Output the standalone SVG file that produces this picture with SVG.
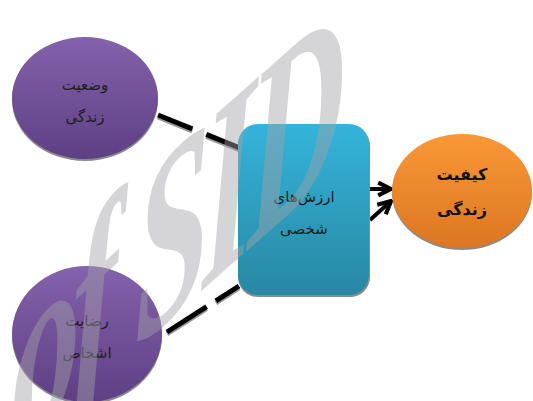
<svg xmlns="http://www.w3.org/2000/svg" width="533" height="401" viewBox="0 0 533 401">
<defs>
<linearGradient id="gP" x1="0" y1="0" x2="0" y2="1"><stop offset="0" stop-color="#8462ac"/><stop offset="1" stop-color="#5e3f84"/></linearGradient>
<linearGradient id="gB" x1="0" y1="0" x2="0" y2="1"><stop offset="0" stop-color="#34b4da"/><stop offset="1" stop-color="#2887a4"/></linearGradient>
<linearGradient id="gO" x1="0" y1="0" x2="0" y2="1"><stop offset="0" stop-color="#fa9836"/><stop offset="1" stop-color="#dc7622"/></linearGradient>
<marker id="ah" viewBox="0 0 10 10" refX="9" refY="5" markerWidth="4" markerHeight="4" orient="auto" markerUnits="strokeWidth">
<path d="M1,1 L9,5 L1,9" fill="none" stroke="#000" stroke-width="2.6" stroke-linejoin="miter"/>
</marker>
<style>
.sh{fill:#8a8a8a}
.t{font-family:"DejaVu Sans",sans-serif;font-size:15px;text-anchor:middle;fill:#1e1e1e}
.tb{font-family:"DejaVu Sans",sans-serif;font-size:16px;font-weight:bold;text-anchor:middle;fill:#111}
.dash{stroke:#000;stroke-width:5;fill:none}
.dsh{stroke:#999;stroke-width:5;fill:none}
.arr{stroke:#000;stroke-width:4;fill:none;marker-end:url(#ah)}
.wm{font-family:"Liberation Serif",serif;font-style:italic;font-weight:bold;font-size:200px;letter-spacing:-12px;fill:#a2a2a6;fill-opacity:0.45}
</style>
</defs>
<g id="connectors">
<path class="dsh" d="M158,117 L240,150" stroke-dasharray="37 15"/>
<path class="dash" d="M158,115 L240,148" stroke-dasharray="37 15"/>
<path class="dsh" d="M167,334 L239,288" stroke-dasharray="47 11"/>
<path class="dash" d="M167,332 L239,286" stroke-dasharray="47 11"/>
<path class="arr" d="M370,189 L391,189"/>
<path class="arr" d="M370,220 L391,201"/>
</g>
<g id="node-vaziat">
<ellipse class="sh" cx="85" cy="100" rx="73" ry="61"/>
<ellipse cx="85" cy="98" rx="73" ry="61" fill="url(#gP)"/>
<text class="t" x="85" y="90">وضعیت</text>
<text class="t" x="85" y="122">زندگی</text>
</g>
<g id="node-rezayat">
<ellipse class="sh" cx="87" cy="336" rx="75" ry="68"/>
<ellipse cx="87" cy="334" rx="75" ry="68" fill="url(#gP)"/>
<text class="t" x="87" y="326">رضایت</text>
<text class="t" x="87" y="358">اشخاص</text>
</g>
<g id="node-arzesh">
<rect class="sh" x="238" y="126" width="132" height="171" rx="20"/>
<rect x="238" y="124" width="131" height="171" rx="20" fill="url(#gB)"/>
<text class="t" x="304" y="202">ارزش‌های</text>
<text class="t" x="304" y="234">شخصی</text>
</g>
<g id="node-keyfiat">
<ellipse class="sh" cx="462" cy="193" rx="70" ry="57"/>
<ellipse cx="462" cy="191" rx="70" ry="57" fill="url(#gO)"/>
<text class="tb" x="462" y="180">کیفیت</text>
<text class="tb" x="462" y="215">زندگی</text>
</g>
<text class="wm" transform="matrix(0.68,-0.6,0,1.25,12,458)">of SID</text>
</svg>
